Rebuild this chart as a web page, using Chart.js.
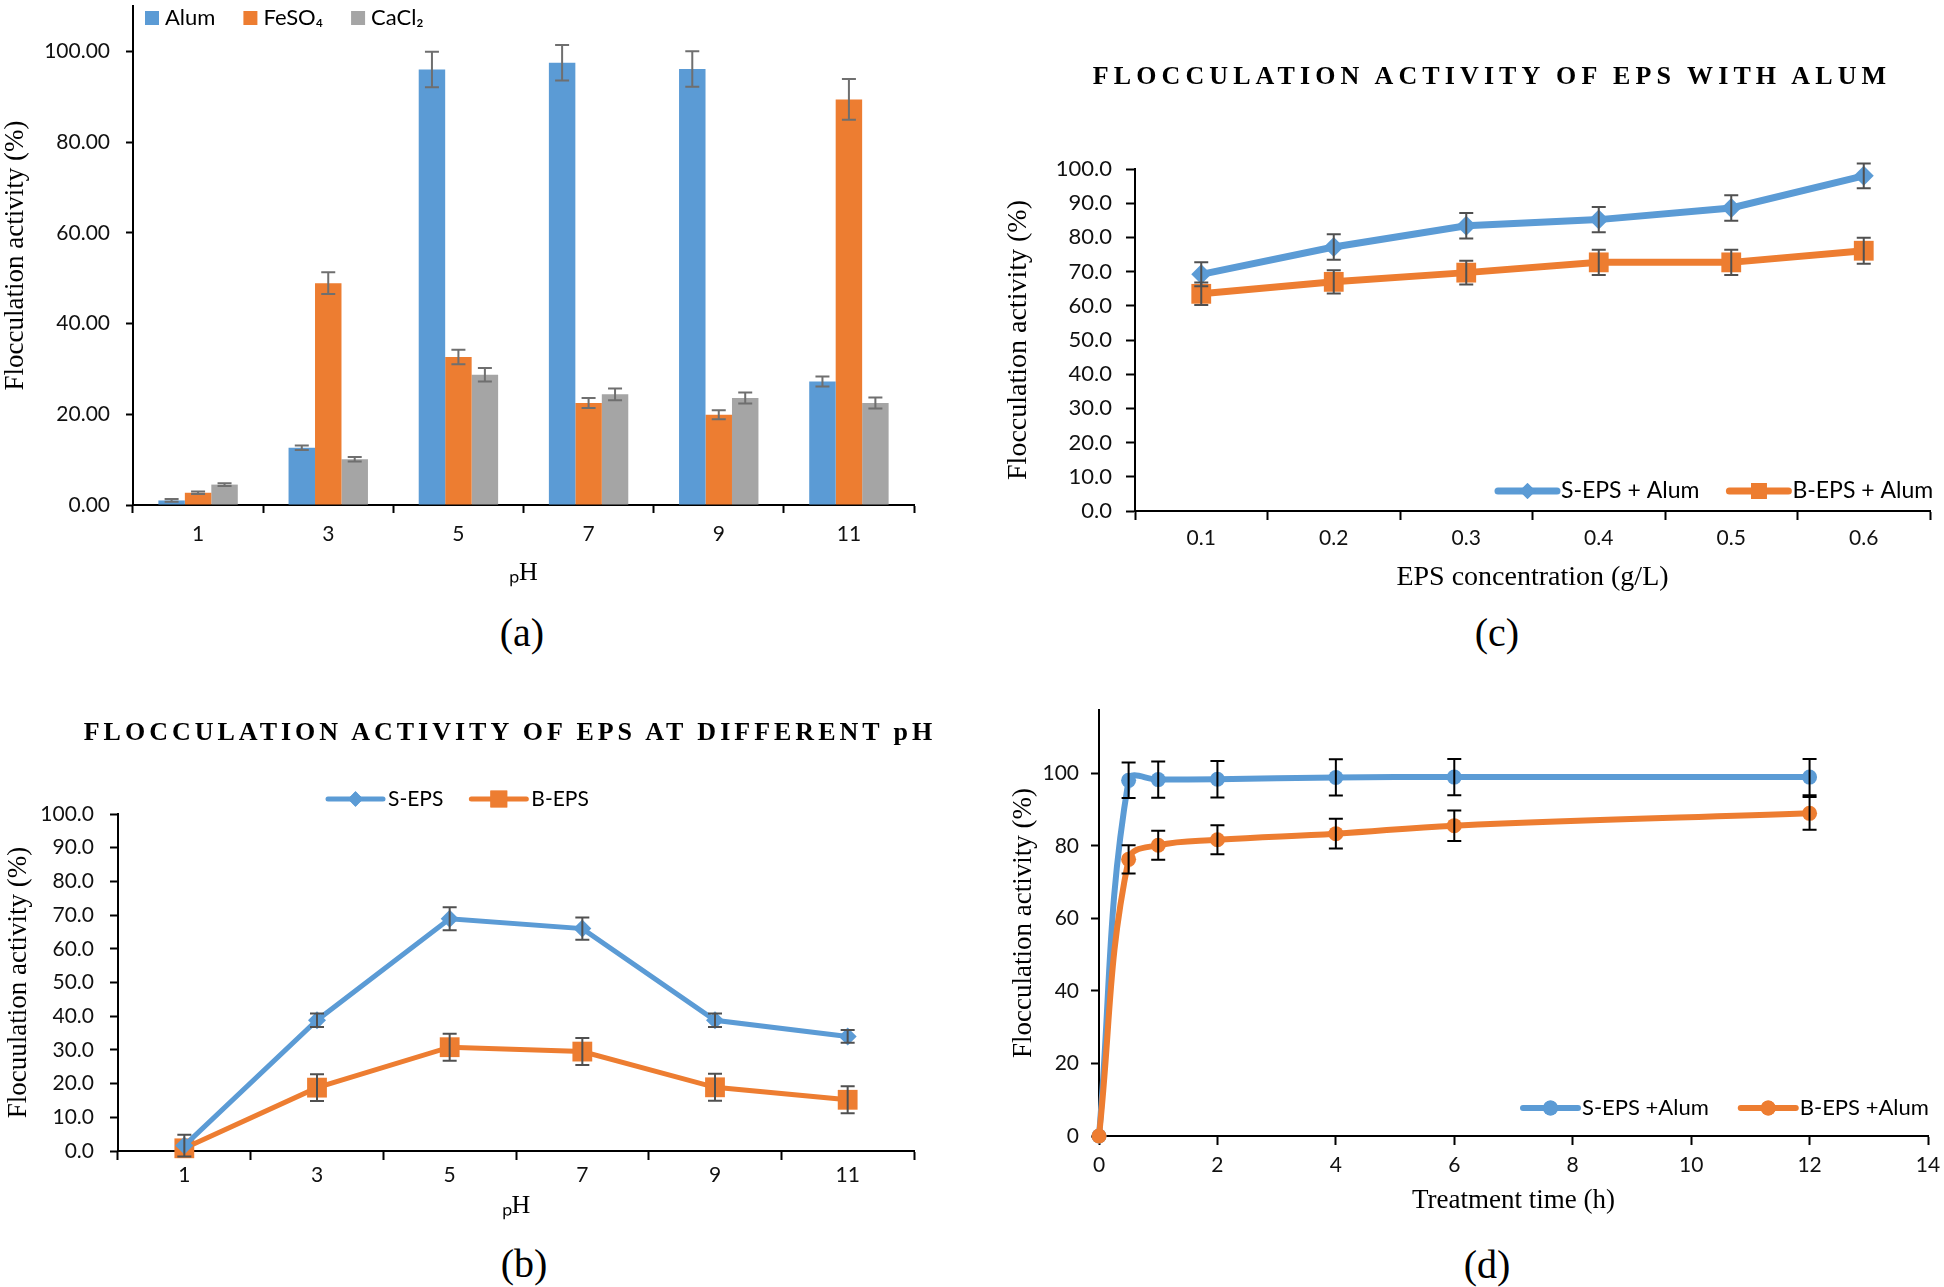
<!DOCTYPE html>
<html>
<head>
<meta charset="utf-8">
<script src="https://cdn.jsdelivr.net/npm/chart.js@4.4.0/dist/chart.umd.min.js"></script>
<style>
  body { margin: 0; background: #fff; width: 1944px; height: 1287px; position: relative; overflow: hidden; }
  .panel { position: absolute; }
  .ttl { position: absolute; font-family: "Liberation Serif", serif; font-weight: bold; font-size: 26px; white-space: nowrap; transform: translate(-50%, -50%); color: #000; }
  .cap { position: absolute; font-family: "Liberation Serif", serif; font-size: 40px; transform: translate(-50%, -50%); color: #000; }
</style>
</head>
<body>

<div class="panel" style="left:0;top:0;width:940px;height:600px"><canvas id="chartA"></canvas></div>
<div class="panel" style="left:0;top:740px;width:940px;height:485px"><canvas id="chartB"></canvas></div>
<div class="panel" style="left:960px;top:40px;width:984px;height:560px"><canvas id="chartC"></canvas></div>
<div class="panel" style="left:960px;top:700px;width:984px;height:525px"><canvas id="chartD"></canvas></div>

<div class="ttl" style="left:1492px;top:76px;letter-spacing:5.1px">FLOCCULATION ACTIVITY OF EPS WITH ALUM</div>
<div class="ttl" style="left:510px;top:732px;letter-spacing:4px">FLOCCULATION ACTIVITY OF EPS AT DIFFERENT pH</div>

<div class="cap" style="left:522px;top:632px">(a)</div>
<div class="cap" style="left:1497px;top:632px">(c)</div>
<div class="cap" style="left:524px;top:1263px">(b)</div>
<div class="cap" style="left:1487px;top:1264px">(d)</div>

<script>
// (a) flocculation vs pH with three coagulants
var phCats = ['1', '3', '5', '7', '9', '11'];
var alumA = [1.0, 12.6, 96.0, 97.5, 96.1, 27.2];
var alumAErr = [0.3, 0.5, 3.9, 3.9, 3.9, 1.1];
var feso4A = [2.7, 48.9, 32.6, 22.5, 19.9, 89.4];
var feso4AErr = [0.3, 2.4, 1.6, 1.1, 1.0, 4.5];
var cacl2A = [4.5, 10.1, 28.7, 24.4, 23.6, 22.5];
var cacl2AErr = [0.3, 0.5, 1.5, 1.3, 1.2, 1.2];

// (b) EPS at different pH
var sEpsB = [1.6, 38.8, 68.9, 66.0, 38.8, 34.0];
var sEpsBErr = [3.2, 2.0, 3.4, 3.3, 2.0, 1.9];
var bEpsB = [0.8, 18.8, 30.8, 29.5, 18.9, 15.2];
var bEpsBErr = [0, 4.0, 4.0, 4.0, 4.0, 4.0];

// (c) EPS concentration with alum
var concC = ['0.1', '0.2', '0.3', '0.4', '0.5', '0.6'];
var sEpsC = [69.2, 77.2, 83.4, 85.2, 88.6, 98.0];
var sEpsCErr = [3.5, 3.7, 3.7, 3.7, 3.7, 3.6];
var bEpsC = [63.5, 67.0, 69.7, 72.7, 72.7, 76.1];
var bEpsCErr = [3.3, 3.4, 3.5, 3.7, 3.7, 3.8];

// (d) treatment time
var timeD = [0, 0.5, 1, 2, 4, 6, 12];
var sEpsD = [0, 98.1, 98.3, 98.4, 98.9, 99.0, 99.0];
var sEpsDErr = [0, 4.9, 5.0, 5.0, 5.0, 5.0, 5.0];
var bEpsD = [0, 76.3, 80.2, 81.7, 83.4, 85.6, 89.0];
var bEpsDErr = [0, 3.9, 4.0, 4.0, 4.1, 4.2, 4.5];

var BLUE = '#5B9BD5', ORANGE = '#ED7D31', GRAY = '#A5A5A5';
var tickFont = { family: 'Lato', size: 21 };
var serif = 'Liberation Serif';

// error bars drawn from the y scale
var errorBars = {
    id: 'errorBars',
    afterDatasetsDraw: function(chart, args, opts) {
        var ctx = chart.ctx;
        var yScale = chart.scales.y;
        chart.data.datasets.forEach(function(ds, i) {
            if (!ds.errors) return;
            var meta = chart.getDatasetMeta(i);
            ctx.save();
            ctx.strokeStyle = opts.color;
            ctx.lineWidth = opts.width;
            meta.data.forEach(function(el, j) {
                var e = ds.errors[j];
                if (!e) return;
                var v = ds.data[j];
                var val = (typeof v === 'object') ? v.y : v;
                var x = el.x;
                var yt = yScale.getPixelForValue(val + e);
                var yb = yScale.getPixelForValue(val - e);
                ctx.beginPath();
                ctx.moveTo(x, yt); ctx.lineTo(x, yb);
                ctx.moveTo(x - opts.cap, yt); ctx.lineTo(x + opts.cap, yt);
                ctx.moveTo(x - opts.cap, yb); ctx.lineTo(x + opts.cap, yb);
                ctx.stroke();
            });
            ctx.restore();
        });
    }
};

// small legend drawn where the original has it
var inLegend = {
    id: 'inLegend',
    afterDraw: function(chart, args, opts) {
        var ctx = chart.ctx;
        var x = opts.x, y = opts.y;
        ctx.save();
        ctx.font = opts.size + 'px Lato';
        ctx.textBaseline = 'middle';
        chart.data.datasets.forEach(function(ds) {
            if (opts.mode === 'box') {
                ctx.fillStyle = ds.backgroundColor;
                ctx.fillRect(x, y - 7, 14, 14);
                x += 14 + opts.textGap;
            } else {
                ctx.strokeStyle = ds.borderColor;
                ctx.lineWidth = ds.borderWidth;
                ctx.lineCap = 'round';
                ctx.beginPath();
                ctx.moveTo(x, y); ctx.lineTo(x + opts.lineLen, y);
                ctx.stroke();
                ctx.fillStyle = ds.backgroundColor;
                Chart.helpers.drawPoint(ctx, {
                    pointStyle: ds.pointStyle, radius: ds.pointRadius * opts.markScale,
                    rotation: 0, borderWidth: 0
                }, x + opts.lineLen / 2, y);
                ctx.fill();
                x += opts.lineLen + opts.textGap;
            }
            ctx.fillStyle = '#000';
            ctx.fillText(ds.label, x, y);
            x += ctx.measureText(ds.label).width + opts.itemGap;
        });
        ctx.restore();
    }
};

function fixBox(w, h) {
    return function(scale) {
        if (w !== null) scale.width = w;
        if (h !== null) scale.height = h;
        scale.paddingTop = 0; scale.paddingBottom = 0;
        scale.paddingLeft = 0; scale.paddingRight = 0;
    };
}

function axisGrid(len) {
    return { display: true, drawOnChartArea: false, drawTicks: true, tickLength: len,
             tickColor: '#000', tickWidth: 2, color: '#000' };
}

function upTo(limit) {
    return function(scale) {
        scale.ticks = scale.ticks.filter(function(t) { return t.value <= limit; });
    };
}

var base = {
    responsive: true,
    maintainAspectRatio: false,
    animation: false,
    events: []
};

// ---- (a) ----
new Chart(document.getElementById('chartA'), {
    type: 'bar',
    data: {
        labels: phCats,
        datasets: [
            { label: 'Alum', data: alumA, errors: alumAErr, backgroundColor: BLUE },
            { label: 'FeSO₄', data: feso4A, errors: feso4AErr, backgroundColor: ORANGE },
            { label: 'CaCl₂', data: cacl2A, errors: cacl2AErr, backgroundColor: GRAY }
        ]
    },
    options: Object.assign({}, base, {
        layout: { padding: { left: 0, top: 6, right: 26, bottom: 0 } },
        datasets: { bar: { categoryPercentage: 0.61, barPercentage: 1.0 } },
        plugins: {
            legend: { display: false },
            tooltip: { enabled: false },
            errorBars: { color: '#6f6f6f', width: 2, cap: 7 },
            inLegend: { mode: 'box', x: 145, y: 18, size: 22, textGap: 6, itemGap: 28 }
        },
        scales: {
            x: {
                afterFit: fixBox(null, 95),
                grid: axisGrid(8),
                border: { display: true, color: '#000', width: 2 },
                ticks: { font: tickFont, color: '#111', padding: 9, maxRotation: 0 },
                title: { display: true, text: 'ₚH', font: { family: serif, size: 26 }, color: '#000', padding: { top: 0, bottom: 11 } }
            },
            y: {
                min: 0, max: 110,
                afterFit: fixBox(133, null),
                afterBuildTicks: upTo(100),
                grid: axisGrid(7),
                border: { display: true, color: '#000', width: 2 },
                ticks: { stepSize: 20, font: { family: 'Lato', size: 21 }, color: '#111', padding: 16,
                         callback: function(v) { return v.toFixed(2); } },
                title: { display: true, text: 'Flocculation activity (%)', font: { family: serif, size: 27 }, color: '#000', padding: { top: 0, bottom: 0 } }
            }
        }
    }),
    plugins: [errorBars, inLegend]
});

// ---- (b) ----
new Chart(document.getElementById('chartB'), {
    type: 'line',
    data: {
        labels: phCats,
        datasets: [
            { label: 'S-EPS', data: sEpsB, errors: sEpsBErr, borderColor: BLUE, backgroundColor: BLUE,
              borderWidth: 5, pointStyle: 'rectRot', pointRadius: 9, pointBorderWidth: 0, tension: 0 },
            { label: 'B-EPS', data: bEpsB, errors: bEpsBErr, borderColor: ORANGE, backgroundColor: ORANGE,
              borderWidth: 5, pointStyle: 'rect', pointRadius: 14, pointBorderWidth: 0, tension: 0 }
        ]
    },
    options: Object.assign({}, base, {
        clip: false,
        layout: { padding: { left: 0, top: 74, right: 26, bottom: 0 } },
        plugins: {
            legend: { display: false },
            tooltip: { enabled: false },
            errorBars: { color: '#505050', width: 2, cap: 7 },
            inLegend: { mode: 'line', x: 328, y: 59, size: 21, lineLen: 55, textGap: 5, itemGap: 28, markScale: 0.85 }
        },
        scales: {
            x: {
                offset: true,
                afterFit: fixBox(null, 74),
                grid: Object.assign(axisGrid(9), { offset: true }),
                border: { display: true, color: '#000', width: 2 },
                ticks: { font: tickFont, color: '#111', padding: 3, maxRotation: 0 },
                title: { display: true, text: 'ₚH', font: { family: serif, size: 26 }, color: '#000', padding: { top: 0, bottom: 3 } }
            },
            y: {
                min: 0, max: 100,
                afterFit: fixBox(118, null),
                grid: axisGrid(8),
                border: { display: true, color: '#000', width: 2 },
                ticks: { stepSize: 10, font: tickFont, color: '#111', padding: 16,
                         callback: function(v) { return v.toFixed(1); } },
                title: { display: true, text: 'Flocuulation activity (%)', font: { family: serif, size: 27 }, color: '#000', padding: { top: 3, bottom: 0 } }
            }
        }
    }),
    plugins: [errorBars, inLegend]
});

// ---- (c) ----
new Chart(document.getElementById('chartC'), {
    type: 'line',
    data: {
        labels: concC,
        datasets: [
            { label: 'S-EPS + Alum', data: sEpsC, errors: sEpsCErr, borderColor: BLUE, backgroundColor: BLUE,
              borderWidth: 7, pointStyle: 'rectRot', pointRadius: 10, pointBorderWidth: 0, tension: 0 },
            { label: 'B-EPS + Alum', data: bEpsC, errors: bEpsCErr, borderColor: ORANGE, backgroundColor: ORANGE,
              borderWidth: 7, pointStyle: 'rect', pointRadius: 14, pointBorderWidth: 0, tension: 0 }
        ]
    },
    options: Object.assign({}, base, {
        clip: false,
        layout: { padding: { left: 0, top: 129, right: 2, bottom: 0 } },
        plugins: {
            legend: { display: false },
            tooltip: { enabled: false },
            errorBars: { color: '#505050', width: 2, cap: 7 },
            inLegend: { mode: 'line', x: 538, y: 451, size: 23, lineLen: 59, textGap: 4, itemGap: 30, markScale: 0.8 }
        },
        scales: {
            x: {
                offset: true,
                afterFit: fixBox(null, 89),
                grid: Object.assign(axisGrid(9), { offset: true }),
                border: { display: true, color: '#000', width: 2 },
                ticks: { font: tickFont, color: '#111', padding: 6, maxRotation: 0 },
                title: { display: true, text: 'EPS concentration (g/L)', font: { family: serif, size: 28 }, color: '#000', padding: { top: 0, bottom: 6 } }
            },
            y: {
                min: 0, max: 100,
                afterFit: fixBox(175, null),
                grid: axisGrid(9),
                border: { display: true, color: '#000', width: 2 },
                ticks: { stepSize: 10, font: { family: 'Lato', size: 22 }, color: '#111', padding: 14,
                         callback: function(v) { return v.toFixed(1); } },
                title: { display: true, text: 'Flocculation activity (%)', font: { family: serif, size: 28 }, color: '#000', padding: { top: 42, bottom: 0 } }
            }
        }
    }),
    plugins: [errorBars, inLegend]
});

// ---- (d) ----
new Chart(document.getElementById('chartD'), {
    type: 'line',
    data: {
        datasets: [
            { label: 'S-EPS +Alum', data: timeD.map(function(t, i) { return { x: t, y: sEpsD[i] }; }),
              errors: sEpsDErr, borderColor: BLUE, backgroundColor: BLUE, order: 1,
              borderWidth: 6, pointStyle: 'circle', pointRadius: 7.5, pointBorderWidth: 0, tension: 0.4 },
            { label: 'B-EPS +Alum', data: timeD.map(function(t, i) { return { x: t, y: bEpsD[i] }; }),
              errors: bEpsDErr, borderColor: ORANGE, backgroundColor: ORANGE, order: 0,
              borderWidth: 6, pointStyle: 'circle', pointRadius: 7.5, pointBorderWidth: 0, tension: 0.4 }
        ]
    },
    options: Object.assign({}, base, {
        clip: false,
        layout: { padding: { left: 0, top: 10, right: 16, bottom: 0 } },
        plugins: {
            legend: { display: false },
            tooltip: { enabled: false },
            errorBars: { color: '#000', width: 2, cap: 7 },
            inLegend: { mode: 'line', x: 563, y: 408, size: 22, lineLen: 55, textGap: 4, itemGap: 32, markScale: 1 }
        },
        scales: {
            x: {
                type: 'linear', min: 0, max: 14,
                afterFit: fixBox(null, 89),
                grid: axisGrid(9),
                border: { display: true, color: '#000', width: 2 },
                ticks: { stepSize: 2, font: tickFont, color: '#111', padding: 8, maxRotation: 0 },
                title: { display: true, text: 'Treatment time (h)', font: { family: serif, size: 27 }, color: '#000', padding: { top: 0, bottom: 8 } }
            },
            y: {
                min: 0, max: 117.5,
                afterFit: fixBox(139, null),
                afterBuildTicks: upTo(100),
                grid: axisGrid(8),
                border: { display: true, color: '#000', width: 2 },
                ticks: { stepSize: 20, font: tickFont, color: '#111', padding: 12 },
                title: { display: true, text: 'Flocculation activity (%)', font: { family: serif, size: 27 }, color: '#000', padding: { top: 48, bottom: 0 } }
            }
        }
    }),
    plugins: [errorBars, inLegend]
});
</script>
</body>
</html>
